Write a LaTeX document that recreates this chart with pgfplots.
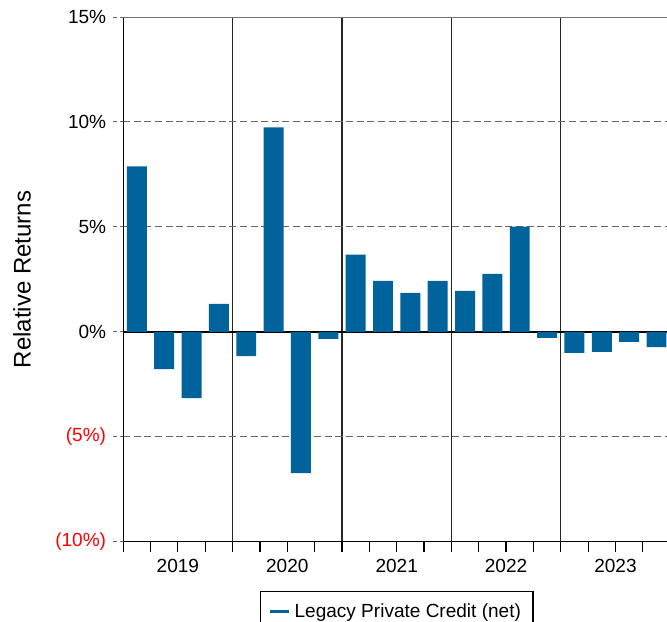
\documentclass[border=0pt]{standalone}
\usepackage{pgfplots}
\pgfplotsset{compat=1.18}
\usepackage{fontspec}
\setmainfont{Liberation Sans}
\definecolor{barblue}{RGB}{0,99,155}
\definecolor{negred}{RGB}{255,0,0}

\begin{document}
\begin{tikzpicture}
\begin{axis}[
  name=ax,
  scale only axis,
  width=272pt, height=262pt,
  xmin=0, xmax=19.92,
  ymin=-10, ymax=15,
  axis x line*=bottom,
  axis y line*=left,
  axis line style={black, line width=0.6pt},
  tick align=outside,
  major tick length=5pt,
  minor tick length=5pt,
  % quarters: ticks at every boundary, year lines as minor grid
  xtick={0,...,20},
  xticklabels={},
  minor xtick={4,8,12,16},
  xminorgrids,
  minor grid style={black!85, solid, line width=0.6pt},
  x tick style={black, line width=0.6pt},
  extra x ticks={2,6,10,14,18},
  extra x tick labels={2019,2020,2021,2022,2023},
  extra x tick style={major tick length=0pt, xmajorgrids=false, tick label style={yshift=-5pt}},
  ytick={-10,-5,5,10,15},
  yticklabels={\textcolor{negred}{(10\%)}, \textcolor{negred}{(5\%)}, 5\%, 10\%, 15\%},
  ymajorgrids,
  major grid style={black!60, dash pattern=on 3.5pt off 1.8pt, line width=0.5pt},
  y tick style={black!60, dash pattern=on 2pt off 1.5pt, line width=0.5pt},
  extra y ticks={0},
  extra y tick labels={0\%},
  extra y tick style={major grid style={black, solid, line width=0.8pt}},
  tick label style={font=\fontsize{9.5}{11.4}\selectfont},
  ylabel={Relative Returns},
  ylabel style={at={(axis description cs:-0.1857,0.5)}, anchor=center, font=\fontsize{12}{14}\selectfont},
  legend style={at={(0.502,-0.0935)}, anchor=north, draw=black, line width=0.6pt,
    font=\fontsize{9.5}{11.4}\selectfont, inner xsep=4pt, inner ysep=4pt},
  legend cell align=left,
]
\addplot[ybar, fill=barblue, draw=none, bar width=0.73,
  legend image code/.code={\draw[barblue, line width=1.6pt] (0pt,0pt) -- (9.5pt,0pt);}]
  coordinates {
  (0.5,7.88) (1.5,-1.77) (2.5,-3.15) (3.5,1.34)
  (4.5,-1.15) (5.5,9.74) (6.5,-6.73) (7.5,-0.33)
  (8.5,3.68) (9.5,2.43) (10.5,1.86) (11.5,2.43)
  (12.5,1.96) (13.5,2.77) (14.5,5.01) (15.5,-0.29)
  (16.5,-1.00) (17.5,-0.95) (18.5,-0.48) (19.5,-0.72)
};
\addlegendentry{Legacy Private Credit (net)}
\draw[black!55, line width=0.6pt] (rel axis cs:0,1) -- (rel axis cs:1,1);
\end{axis}
\pgfresetboundingbox
\path[use as bounding box] ([xshift=-61.5pt,yshift=-40pt]ax.south west) rectangle ([xshift=-0.5pt,yshift=8.5pt]ax.north east);
\end{tikzpicture}
\end{document}
